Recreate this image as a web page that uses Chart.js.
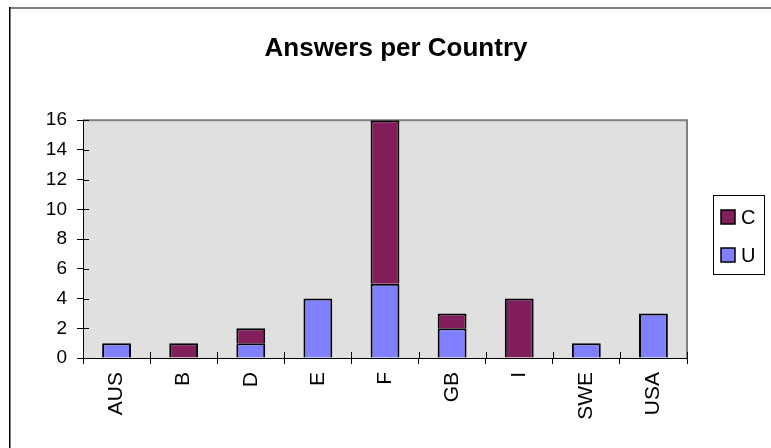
<!DOCTYPE html>
<html>
<head>
<meta charset="utf-8">
<title>Answers per Country</title>
<script src="https://cdn.jsdelivr.net/npm/chart.js@4.4.0/dist/chart.umd.min.js"></script>
<style>
    body { margin: 0; background: #fff; }
    #zone { width: 771px; height: 448px; }
</style>
</head>
<body>
<div id="zone"><canvas id="myChart" width="771" height="448"></canvas></div>
<script>
// Données : réponses par pays
const pays = ['AUS', 'B', 'D', 'E', 'F', 'GB', 'I', 'SWE', 'USA'];
const reponsesU = [1, 0, 1, 4, 5, 2, 0, 1, 3];
const reponsesC = [0, 1, 1, 0, 11, 1, 4, 0, 0];
const graduationsY = [0, 2, 4, 6, 8, 10, 12, 14, 16];

const police = 'Arial, "Liberation Sans", sans-serif';

// Fond gris de la zone de tracé + cadre du graphique
const fond = {
    id: 'fond',
    beforeDraw(chart) {
        const {ctx, chartArea: a} = chart;
        ctx.save();
        ctx.fillStyle = '#fff';
        ctx.fillRect(0, 0, chart.width, chart.height);
        ctx.fillStyle = '#808080';
        ctx.fillRect(9, 7, 762, 2);
        ctx.fillStyle = '#000';
        ctx.fillRect(9, 7, 1.5, chart.height - 7);
        ctx.fillStyle = '#e0e0e0';
        ctx.fillRect(a.left, a.top, a.right - a.left, a.bottom - a.top);
        ctx.fillStyle = '#808080';
        ctx.fillRect(a.left, a.top - 1, a.right - a.left, 2);
        ctx.fillRect(a.right - 1, a.top - 1, 2, a.bottom - a.top + 1);
        ctx.restore();
    }
};

// Petites graduations côté intérieur des axes
const graduationsInterieures = {
    id: 'graduationsInterieures',
    afterDatasetsDraw(chart) {
        const {ctx, chartArea: a, scales: {x, y}} = chart;
        ctx.save();
        ctx.strokeStyle = '#000';
        ctx.lineWidth = 1;
        ctx.beginPath();
        y.ticks.forEach((t, i) => {
            const py = Math.round(y.getPixelForTick(i)) + 0.5;
            ctx.moveTo(a.left, py);
            ctx.lineTo(a.left + 6, py);
        });
        for (let i = 0; i <= pays.length; i++) {
            const px = Math.round(x.getPixelForValue(i - 0.5)) + 0.5;
            ctx.moveTo(px, a.bottom);
            ctx.lineTo(px, a.bottom - 6);
        }
        ctx.stroke();
        ctx.restore();
    }
};

// Légende encadrée à droite (C au-dessus de U)
const legendeEncadree = {
    id: 'legendeEncadree',
    afterDraw(chart) {
        const {ctx} = chart;
        const items = chart.data.datasets.slice().reverse();
        ctx.save();
        ctx.strokeStyle = '#000';
        ctx.lineWidth = 1;
        ctx.strokeRect(713.5, 195.5, 51, 79);
        ctx.font = '20px ' + police;
        ctx.textBaseline = 'middle';
        items.forEach((ds, i) => {
            const cy = 217 + i * 38;
            ctx.fillStyle = ds.backgroundColor;
            ctx.fillRect(721, cy - 7, 14, 14);
            ctx.lineWidth = 1.5;
            ctx.strokeRect(721, cy - 7, 14, 14);
            ctx.fillStyle = '#000';
            ctx.fillText(ds.label, 741, cy + 1);
        });
        ctx.restore();
    }
};

const ctx = document.getElementById('myChart');

new Chart(ctx, {
    type: 'bar',
    data: {
        labels: pays,
        datasets: [{
            label: 'U',
            data: reponsesU,
            backgroundColor: '#8080ff',
            borderColor: '#000',
            borderWidth: 2,
            borderSkipped: 'start'
        }, {
            label: 'C',
            data: reponsesC,
            backgroundColor: '#821e5c',
            borderColor: '#000',
            borderWidth: 2,
            borderSkipped: 'start'
        }]
    },
    options: {
        responsive: false,
        animation: false,
        datasets: {
            bar: { categoryPercentage: 1, barPercentage: 0.43 }
        },
        layout: { padding: { left: 21, right: 0, top: 0, bottom: 0 } },
        plugins: {
            legend: { display: false },
            tooltip: { enabled: false },
            title: {
                display: true,
                text: 'Answers per Country',
                color: '#000',
                font: { family: police, size: 26, weight: 'bold' },
                padding: { top: 33, bottom: 56 }
            }
        },
        scales: {
            x: {
                stacked: true,
                grid: { drawOnChartArea: false, drawTicks: true, tickLength: 6, color: '#000', offset: true },
                border: { color: '#000', width: 1 },
                ticks: {
                    minRotation: 90,
                    maxRotation: 90,
                    padding: 8,
                    color: '#000',
                    font: { family: police, size: 21 }
                },
                // hauteur fixe de l'axe et place réservée pour la légende
                afterFit: s => { s.height = 90; s.paddingRight = 84; }
            },
            y: {
                stacked: true,
                min: 0,
                max: 16,
                grid: { drawOnChartArea: false, drawTicks: true, tickLength: 6, color: '#000' },
                border: { color: '#000', width: 1 },
                ticks: {
                    padding: 10,
                    color: '#000',
                    font: { family: police, size: 19 }
                },
                afterBuildTicks: axis => { axis.ticks = graduationsY.map(v => ({ value: v })); },
                afterFit: s => { s.width = 62; }
            }
        }
    },
    plugins: [fond, graduationsInterieures, legendeEncadree]
});
</script>
</body>
</html>
